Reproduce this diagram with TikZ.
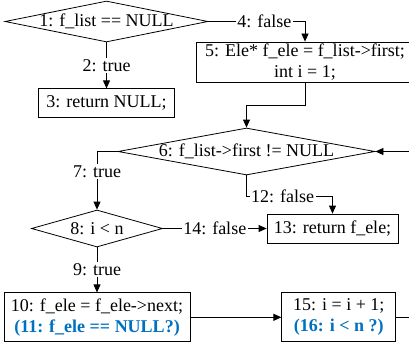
\documentclass[tikz,border=0pt]{standalone}
\usepackage{fontspec}
\setmainfont{Liberation Serif}
\usetikzlibrary{arrows.meta,positioning,shapes.geometric}
\definecolor{CodeBlue}{HTML}{0070C0}
\newcommand{\dtext}[1]{\makebox[0pt]{#1}}
\newcommand{\hint}[1]{{\bfseries\color{CodeBlue}#1}}

\begin{document}
\begin{tikzpicture}[x=1pt,y=-1pt,
  font=\fontsize{18}{21}\selectfont,
  stmt/.style={draw,line width=0.8pt,align=center,inner sep=0pt,minimum height=29pt},
  cond/.style={draw,line width=0.8pt,diamond,inner sep=0pt},
  arr/.style={-{Triangle[length=8pt,width=7pt]},line width=0.8pt},
  lab/.style={fill=white,inner sep=1.5pt}
]
\useasboundingbox (0,0) rectangle (409,345);
\clip (0,0) rectangle (409,345);
\node[cond,minimum width=203pt,minimum height=41pt] (d1) at (106.5,21.5) {\dtext{1: f\_list == NULL}};
\node[stmt,minimum width=136pt,below=46pt of d1] (b3) {3: return NULL;};
\node[stmt,minimum width=218pt,minimum height=40pt] (b5) at (305,62) {5: Ele* f\_ele = f\_list->first;\\int i = 1;};
\node[cond,minimum width=257pt,minimum height=47pt] (d6) at (246.5,151.5) {\dtext{6: f\_list->first != NULL}};
\node[cond,minimum width=131pt,minimum height=37pt] (d8) at (97,228.5) {\dtext{8: i < n}};
\node[stmt,minimum width=131pt] (b13) at (332.5,228.5) {13: return f\_ele;};
\node[stmt,minimum width=186pt,minimum height=49pt,below=45pt of d8] (b10) {10: f\_ele = f\_ele->next;\\\hint{(11: f\_ele == NULL?)}};
\node[stmt,minimum width=114pt,minimum height=49pt,right=91pt of b10] (b15) {15: i = i + 1;\\\hint{(16: i < n ?)}};
\coordinate (back) at (430,0);

\draw[arr] (d1) -- node[lab] {2: true} (b3);
\draw[arr] (d1.east) -| node[lab,pos=0.29] {4: false} (b5.north);
\draw[arr] (b5.south) -- ++(0,23) -| (d6.north);
\draw[arr] (d6.west) -| node[lab,pos=0.67] {7: true} (d8.north);
\draw[arr] (d6.south) -- ++(0,21) -| node[lab,pos=0.21] {12: false} (b13.north);
\draw[arr] (d8.east) -- node[lab] {14: false} (b13.west);
\draw[arr] (d8) -- node[lab] {9: true} (b10);
\draw[arr] (b10.east) -- (b15.west);
\draw[arr] (b15.east) -- (b15.east -| back) |- (d6.east);
\end{tikzpicture}
\end{document}
